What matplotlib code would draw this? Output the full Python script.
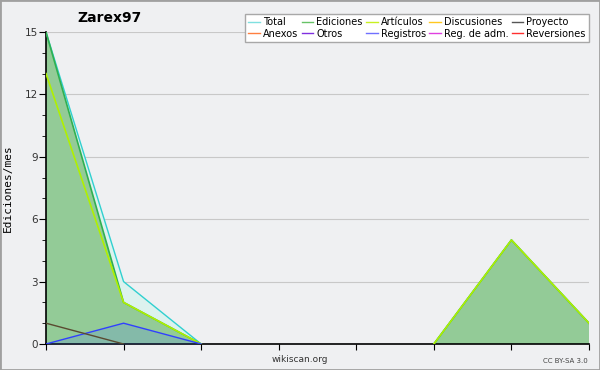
"""Monthly edits chart for Zarex97 (wikiscan style)."""

import numpy as np
from matplotlib import pyplot as plt
from matplotlib.lines import Line2D
from matplotlib.ticker import MultipleLocator

months = list(range(8))
# None = no activity drawn for that month
total = [15, 3, 0, None, None, 0, 5, 1]
ediciones = [15, 2, 0, None, None, 0, 5, 1]
articulos = [13, 2, 0, None, None, 0, 5, 1]
registros = [0, 1, 0, None, None, None, None, None]
proyecto = [1, 0, None, None, None, None, None, None]

legend_names = ['Total', 'Ediciones', 'Artículos', 'Discusiones', 'Proyecto',
                'Anexos', 'Otros', 'Registros', 'Reg. de adm.', 'Reversiones']
legend_colors = ['#7fe0e0', '#66c266', '#c8f020', '#ffc820', '#555555',
                 '#ff7f40', '#8030e0', '#7070ff', '#e040e0', '#ff3030']

BG = '#eff0f2'


def arr(values):
    return np.array([np.nan if v is None else v for v in values], dtype=float)


fig = plt.figure(figsize=(6, 3.7), dpi=100, facecolor=BG)
fig.patches.append(plt.Rectangle((0, 0), 1, 1, transform=fig.transFigure,
                                 fill=False, edgecolor='#a0a0a0', lw=2))
ax = fig.add_axes([46 / 600, 26 / 370, 543 / 600, 312 / 370], facecolor=BG)

x = np.array(months)
ax.fill_between(x, arr(total), color='#dcf2ee', lw=0, zorder=1)
ax.fill_between(x, arr(ediciones), color='#93cb97', lw=0, zorder=2)
ax.fill_between(x, arr(registros), color='#4070ff', alpha=0.18, lw=0, zorder=3)

ax.plot(x, arr(total), color='#30d0d0', lw=1, zorder=4)
ax.plot(x, arr(ediciones), color='#30b050', lw=1.2, zorder=5)
ax.plot(x, arr(articulos), color='#b0f000', lw=1.2, zorder=6)
ax.plot(x, arr(registros), color='#3040ff', lw=1, zorder=7)
ax.plot(x, arr(proyecto), color='#5a4a30', lw=1, zorder=7)

ax.set_xlim(0, 7)
ax.set_ylim(0, 15)
ax.yaxis.set_major_locator(MultipleLocator(3))
ax.yaxis.set_minor_locator(MultipleLocator(1))
ax.set_xticks(months)
ax.set_xticklabels([])
ax.grid(axis='y', color='#c8c8c8', lw=0.8, zorder=0)
ax.set_axisbelow(True)
for side in ('top', 'right'):
    ax.spines[side].set_visible(False)
for side in ('left', 'bottom'):
    ax.spines[side].set_linewidth(1.2)
ax.tick_params(axis='y', which='major', length=5, labelsize=7.5,
               labelcolor='#333333', pad=1)
ax.tick_params(axis='y', which='minor', length=3)
ax.tick_params(axis='x', length=4)
ax.set_ylabel('Ediciones/mes', family='DejaVu Sans Mono', fontsize=8, labelpad=8)

fig.text(110 / 600, 1 - 18 / 370, 'Zarex97', ha='center', va='center',
         fontsize=10, fontweight='bold')
fig.text(300 / 600, 1 - 360 / 370, 'wikiscan.org', ha='center', va='center',
         fontsize=6.5, color='#333333')
fig.text(588 / 600, 1 - 361 / 370, 'CC BY-SA 3.0', ha='right', va='center',
         fontsize=5, color='#444444')

handles = [Line2D([], [], color=c, lw=1) for c in legend_colors]
order = [0, 5, 1, 6, 2, 7, 3, 8, 4, 9]
leg = fig.legend([handles[i] for i in order], [legend_names[i] for i in order],
                 ncol=5, loc='upper right', bbox_to_anchor=(594 / 600, 1 - 9 / 370),
                 fontsize=7, handlelength=1.2, handletextpad=0.3,
                 columnspacing=0.35, labelspacing=0.15, borderpad=0.35,
                 fancybox=False, framealpha=1, edgecolor='#a8a8a8')
leg.get_frame().set_linewidth(1)

fig.savefig('out.png', dpi=100, facecolor=BG)
